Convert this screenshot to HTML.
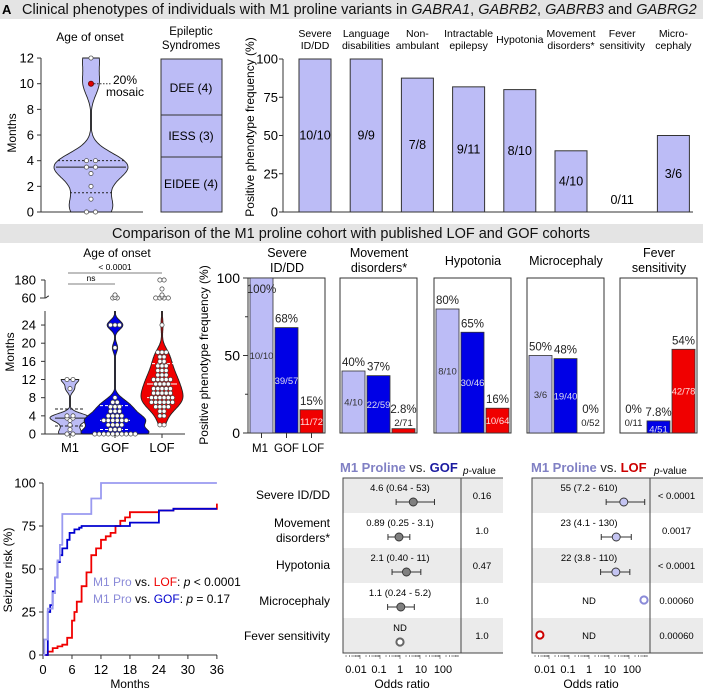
<!DOCTYPE html>
<html><head><meta charset="utf-8">
<style>
html,body{margin:0;padding:0;background:#fff;}
svg{display:block;font-family:"Liberation Sans",Arial,sans-serif;}
</style></head>
<body>
<svg id="fig" width="703" height="690" viewBox="0 0 703 690" xmlns="http://www.w3.org/2000/svg">
  <rect x="0" y="0" width="703" height="19" fill="#e4e4e4"/>
  <text x="2" y="14" font-size="13" font-weight="bold">A</text>
  <text x="22" y="14" font-size="14.5" fill="#111">Clinical phenotypes of individuals with M1 proline variants in <tspan font-style="italic">GABRA1</tspan>, <tspan font-style="italic">GABRB2</tspan>, <tspan font-style="italic">GABRB3</tspan> and <tspan font-style="italic">GABRG2</tspan></text>
  <rect x="0" y="224" width="703" height="19" fill="#e4e4e4"/>
  <text x="351" y="238" text-anchor="middle" font-size="14.5" fill="#111">Comparison of the M1 proline cohort with published LOF and GOF cohorts</text>

  <text x="90" y="41" text-anchor="middle" font-size="12">Age of onset</text>
  <text transform="translate(16,133) rotate(-90)" text-anchor="middle" font-size="12">Months</text>
  <g id="violinA"></g>
  <text x="113" y="84" font-size="12">20%</text>
  <text x="106" y="96" font-size="12">mosaic</text>

  <text x="191" y="35" text-anchor="middle" font-size="11.5">Epileptic</text>
  <text x="191" y="49" text-anchor="middle" font-size="11.5">Syndromes</text>
  <g>
    <rect x="161" y="59" width="61" height="153" fill="#bcbcf6" stroke="#333" stroke-width="1"/>
    <line x1="161" y1="115" x2="222" y2="115" stroke="#333"/>
    <line x1="161" y1="157" x2="222" y2="157" stroke="#333"/>
    <text x="191" y="92" text-anchor="middle" font-size="12">DEE (4)</text>
    <text x="191" y="140" text-anchor="middle" font-size="12">IESS (3)</text>
    <text x="191" y="188" text-anchor="middle" font-size="12">EIDEE (4)</text>
  </g>

  <text transform="translate(254,127) rotate(-90)" text-anchor="middle" font-size="12">Positive phenotype frequency (%)</text>
  <g id="barsA"></g>

  <text x="117" y="257" text-anchor="middle" font-size="12">Age of onset</text>
  <text transform="translate(14,352) rotate(-90)" text-anchor="middle" font-size="12">Months</text>
  <g>
    <line x1="68" y1="273" x2="162" y2="273" stroke="#555" stroke-width="0.8"/>
    <text x="115" y="270" text-anchor="middle" font-size="8.5">&lt; 0.0001</text>
    <line x1="68" y1="284" x2="115" y2="284" stroke="#555" stroke-width="0.8"/>
    <text x="91" y="281" text-anchor="middle" font-size="8.5">ns</text>
  </g>
  <g id="violinB"></g>

  <text transform="translate(208,355) rotate(-90)" text-anchor="middle" font-size="12">Positive phenotype frequency (%)</text>
  <g id="barsB"></g>

  <text transform="translate(12,570) rotate(-90)" text-anchor="middle" font-size="12">Seizure risk (%)</text>
  <text x="130" y="688" text-anchor="middle" font-size="12">Months</text>
  <g id="km"></g>
  <text x="93" y="586" font-size="12"><tspan fill="#8a8ad8">M1 Pro</tspan> vs. <tspan fill="#ee0000">LOF</tspan>: <tspan font-style="italic">p</tspan> &lt; 0.0001</text>
  <text x="93" y="603" font-size="12"><tspan fill="#8a8ad8">M1 Pro</tspan> vs. <tspan fill="#0000cc">GOF</tspan>: <tspan font-style="italic">p</tspan> = 0.17</text>

  <g font-size="12" text-anchor="end">
    <text x="330" y="499">Severe ID/DD</text>
    <text x="330" y="527">Movement</text>
    <text x="330" y="542">disorders*</text>
    <text x="330" y="569">Hypotonia</text>
    <text x="330" y="605">Microcephaly</text>
    <text x="330" y="640">Fever sensitivity</text>
  </g>
  <text x="340" y="472" font-size="13" font-weight="bold"><tspan fill="#8080c4">M1 Proline</tspan><tspan font-weight="normal" fill="#222"> vs. </tspan><tspan fill="#1a1aa0">GOF</tspan></text>
  <text x="463" y="474" font-size="10"><tspan font-style="italic">p</tspan>-value</text>
  <text x="531" y="472" font-size="13" font-weight="bold"><tspan fill="#8080c4">M1 Proline</tspan><tspan font-weight="normal" fill="#222"> vs. </tspan><tspan fill="#cc0000">LOF</tspan></text>
  <text x="654" y="474" font-size="10"><tspan font-style="italic">p</tspan>-value</text>
  <g id="forest"></g>
</svg>

<script>
const onsetA = [0, 0, 1, 2, 3, 3.5, 3.5, 4, 4, 10, 12];
const mosaicValue = 10;
const yTicksA = [0, 2, 4, 6, 8, 10, 12];

const phenoA = ["Severe|ID/DD", "Language|disabilities", "Non-|ambulant", "Intractable|epilepsy", "Hypotonia", "Movement|disorders*", "Fever|sensitivity", "Micro-|cephaly"];
const freqA = [100, 100, 87.5, 81.8, 80, 40, 0, 50];
const fracA = ["10/10", "9/9", "7/8", "9/11", "8/10", "4/10", "0/11", "3/6"];
const pctTicks = [0, 25, 50, 75, 100];

const groupsB = ["M1", "GOF", "LOF"];
const onsetM1 = [0, 0, 1, 2, 3, 3.5, 3.5, 4, 4, 10, 12, 12];
const onsetGOF = [0,0,0,0,0,0,0,0,0,0, 1,1,1, 2,2,2,2, 3,3,3,3,3,3, 4,4,4,4, 5,5,5, 6,6,6, 7,7, 8, 19, 24,24,24, 60,60,65,80];
const onsetLOF = [2,2, 4,4, 5,5, 6,6,6,6, 7,7,7,7,7,7, 8,8,8,8,8,8, 9,9,9,9,9, 10,10,10,10,10, 11,11,11,11, 12,12,12,12,12, 13,13,13, 14,14,14, 15,15,15, 16,16, 17,17, 18,18,18, 24, 60,60,60,60,70,80,120,180,180];
const yTicksLower = [0, 4, 8, 12, 16, 20, 24];
const yTicksUpper = [60, 180];

const phenoB = ["Severe|ID/DD", "Movement|disorders*", "Hypotonia", "Microcephaly", "Fever|sensitivity"];
const freqM1 = [100, 40, 80, 50, 0];
const freqGOF = [68, 37, 65, 48, 7.8];
const freqLOF = [15, 2.8, 16, 0, 54];
const fracM1 = ["10/10", "4/10", "8/10", "3/6", "0/11"];
const fracGOF = ["39/57", "22/59", "30/46", "19/40", "4/51"];
const fracLOF = ["11/72", "2/71", "10/64", "0/52", "42/78"];
const pctM1 = ["100%", "40%", "80%", "50%", "0%"];
const pctGOF = ["68%", "37%", "65%", "48%", "7.8%"];
const pctLOF = ["15%", "2.8%", "16%", "0%", "54%"];

const kmM1T = [0, 0.3, 1, 2, 2.5, 3, 3.5, 4, 10, 12, 36];
const kmM1V = [0, 9, 27, 36, 45, 55, 64, 82, 91, 100, 100];
const kmGOFT = [0, 1, 1.5, 2, 2.5, 3, 3.5, 4, 5, 5.5, 6.5, 7.5, 8, 18, 24, 27, 36];
const kmGOFV = [0, 25, 29, 37, 45, 54, 58, 62, 67, 71, 73, 74, 75, 77, 84, 85, 85];
const kmLOFT = [0, 1, 2, 3, 4, 5, 6, 6.5, 7, 8, 9, 10, 11, 12, 13, 14, 15, 16, 17, 18, 24, 27, 36];
const kmLOFV = [0, 2, 4, 5, 6, 10, 20, 25, 31, 40, 48, 58, 62, 67, 69, 71, 75, 78, 80, 83, 84, 85, 88];
const kmXTicks = [0, 6, 12, 18, 24, 30, 36];
const kmYTicks = [0, 25, 50, 75, 100];

const forestGOFOR = [4.6, 0.89, 2.1, 1.1, null];
const forestGOFLo = [0.64, 0.25, 0.40, 0.24, null];
const forestGOFHi = [53, 3.1, 11, 5.2, null];
const forestGOFText = ["4.6 (0.64 - 53)", "0.89 (0.25 - 3.1)", "2.1 (0.40 - 11)", "1.1 (0.24 - 5.2)", "ND"];
const forestGOFP = ["0.16", "1.0", "0.47", "1.0", "1.0"];
const forestGOFND = [null, null, null, null, 1];
const forestLOFOR = [55, 23, 22, null, null];
const forestLOFLo = [7.2, 4.1, 3.8, null, null];
const forestLOFHi = [610, 130, 110, null, null];
const forestLOFText = ["55 (7.2 - 610)", "23 (4.1 - 130)", "22 (3.8 - 110)", "ND", "ND"];
const forestLOFP = ["< 0.0001", "0.0017", "< 0.0001", "0.00060", "0.00060"];
const forestLOFND = [null, null, null, 600, 0.0035];
const orTicks = [0.01, 0.1, 1, 10, 100];
const orTickLabels = ["0.01", "0.1", "1", "10", "100"];

const NS = "http://www.w3.org/2000/svg";
function el(tag, attrs, parent) {
  const e = document.createElementNS(NS, tag);
  for (const k in attrs) e.setAttribute(k, attrs[k]);
  parent.appendChild(e);
  return e;
}
const LAV = "#bcbcf6", BLUE = "#0000e6", RED = "#f00000";

function kdePath(data, lo, hi, bw, maxHW, cx, yf) {
  const pts = [];
  let mx = 0;
  for (let m = lo; m <= hi + 1e-9; m += 0.1) {
    let s = 0;
    for (const d of data) s += Math.exp(-0.5 * Math.pow((m - d) / bw, 2));
    pts.push([m, s]); if (s > mx) mx = s;
  }
  let r = "", l = "";
  pts.forEach((p, i) => { const w = Math.max(p[1] / mx * maxHW, 0.5); r += (i ? "L" : "M") + (cx + w).toFixed(1) + "," + yf(p[0]).toFixed(1); });
  for (let i = pts.length - 1; i >= 0; i--) { const w = Math.max(pts[i][1] / mx * maxHW, 0.5); l += "L" + (cx - w).toFixed(1) + "," + yf(pts[i][0]).toFixed(1); }
  return r + l + "Z";
}
function quant(arr, q) {
  const s = arr.slice().sort((a, b) => a - b);
  const pos = (s.length - 1) * q, b = Math.floor(pos);
  return s[b] + (s[Math.min(b + 1, s.length - 1)] - s[b]) * (pos - b);
}
function spreadDots(data, cx, yf, g, fill, stroke, nameBase, sp) {
  const counts = {};
  data.forEach(v => counts[v] = (counts[v] || 0) + 1);
  const seen = {};
  data.forEach(v => {
    const n = counts[v]; const k = seen[v] = (seen[v] || 0) + 1;
    const x = cx + (k - 1 - (n - 1) / 2) * sp;
    const c = el("circle", {cx: x, cy: yf(v), r: 2.1, fill: fill, stroke: stroke, "stroke-width": 0.7}, g);
    
    
  });
}

(function () {
  const g = document.getElementById("violinA");
  const yA = m => 212 - m * 12.83;
  const ax = el("path", {d: "M41,58V212H143", fill: "none", stroke: "#333", "stroke-width": 1}, g);
  
  
  yTicksA.forEach(t => {
    const tl = el("line", {x1: 37, x2: 41, y1: yA(t), y2: yA(t), stroke: "#333"}, g);
    
    
    const tx = el("text", {x: 34, y: yA(t) + 4.5, "text-anchor": "end", "font-size": 13}, g);
    tx.textContent = t;
    
    
  });
  const sh = el("path", {d: kdePath(onsetA, Math.min(...onsetA), Math.max(...onsetA), 0.9, 37, 91, yA), fill: LAV, stroke: "#222", "stroke-width": 0.9}, g);
  
  
  const med = quant(onsetA, 0.5), q1 = quant(onsetA, 0.25), q3 = quant(onsetA, 0.75);
  [[med, "none", 56, 126], [q1, "2,2", 70, 112], [q3, "2,2", 58, 124]].forEach(([v, da, a, b]) => {
    const ln = el("line", {x1: a, x2: b, y1: yA(v), y2: yA(v), stroke: "#222", "stroke-width": 1, "stroke-dasharray": da}, g);
    
    
  });
  spreadDots(onsetA, 91, yA, g, "#fff", "#444", "violin-a-dot", 9);
  const md = el("line", {x1: 94, x2: 112, y1: yA(mosaicValue), y2: yA(mosaicValue), stroke: "#333", "stroke-dasharray": "1.5,1.5"}, g);
  
  
  const mc = el("circle", {cx: 91, cy: yA(mosaicValue), r: 2.6, fill: "#e00000", stroke: "#600", "stroke-width": 0.8}, g);
  
  
})();

(function () {
  const g = document.getElementById("barsA");
  const yA = v => 212 - v * 1.53;
  const cx = i => 315 + i * 51.2;
  const ax = el("path", {d: "M283,59V212H693", fill: "none", stroke: "#333"}, g);
  
  
  pctTicks.forEach(t => {
    const tl = el("line", {x1: 279, x2: 283, y1: yA(t), y2: yA(t), stroke: "#333"}, g);
    
    
    const tx = el("text", {x: 278, y: yA(t) + 4.5, "text-anchor": "end", "font-size": 13}, g);
    tx.textContent = t;
    
    
  });
  freqA.forEach((v, i) => {
    const top = yA(v);
    if (v > 0) {
      const r = el("rect", {x: cx(i) - 16, y: top, width: 32, height: 212 - top, fill: LAV, stroke: "#333", "stroke-width": 1}, g);
      
      
    }
    const ft = el("text", {x: cx(i), y: (v > 0 ? (top + 212) / 2 : 200) + 4, "text-anchor": "middle", "font-size": 12.5}, g);
    ft.textContent = fracA[i];
    
    
    const parts = phenoA[i].split("|");
    parts.forEach((p, k) => {
      const ht = el("text", {x: cx(i), y: parts.length === 1 ? 43 : 37 + k * 12, "text-anchor": "middle", "font-size": 10.5}, g);
      ht.textContent = p;
      
      
    });
  });
})();

(function () {
  const g = document.getElementById("violinB");
  const yL = m => 434 - m * 4.54;
  const yU = m => 298 - (m - 60) * 18 / 120;
  const yMap = m => (m <= 27 ? yL(m) : yU(m));
  const ax = el("path", {d: "M45,280V298M45,311V434H185", fill: "none", stroke: "#333"}, g);
  
  
  const brk = el("path", {d: "M40,298H45M45,298c2,0 2,-2 4,-2", fill: "none", stroke: "#333"}, g);
  
  
  yTicksLower.forEach(t => {
    const tl = el("line", {x1: 41, x2: 45, y1: yL(t), y2: yL(t), stroke: "#333"}, g);
    
    
    const tx = el("text", {x: 36, y: yL(t) + 4.5, "text-anchor": "end", "font-size": 13}, g);
    tx.textContent = t;
    
    
  });
  yTicksUpper.forEach(t => {
    const tl = el("line", {x1: 41, x2: 45, y1: yU(t), y2: yU(t), stroke: "#333"}, g);
    
    
    const tx = el("text", {x: 36, y: yU(t) + 4.5, "text-anchor": "end", "font-size": 13}, g);
    tx.textContent = t;
    
    
  });
  const sets = [onsetM1, onsetGOF, onsetLOF];
  const centers = [70, 115, 162];
  const fills = [LAV, BLUE, RED];
  const hws = [20, 34, 21];
  const bws = [0.8, 1.0, 1.6];
  const lineCols = ["#222", "#fff", "#fff"];
  const sps = [6, 4.5, 4.2];
  sets.forEach((data, gi) => {
    const low = data.filter(v => v <= 27);
    const hiV = gi === 0 ? Math.max(...low) : 27;
    const sh = el("path", {d: kdePath(low, Math.min(...low), hiV, bws[gi], hws[gi], centers[gi], yL), fill: fills[gi], stroke: "#222", "stroke-width": 0.9}, g);
    
    
    const med = quant(data, 0.5), q1 = quant(data, 0.25), q3 = quant(data, 0.75);
    [[med, "none"], [q1, "3,2"], [q3, "3,2"]].forEach(([v, da]) => {
      if (v > 27) return;
      const ln = el("line", {x1: centers[gi] - 15, x2: centers[gi] + 15, y1: yL(v), y2: yL(v), stroke: lineCols[gi], "stroke-width": 1, "stroke-dasharray": da}, g);
      
      
    });
    spreadDots(data, centers[gi], yMap, g, "#fff", "#444", 'violin-b-dot', sps[gi]);
    const tk = el("line", {x1: centers[gi], x2: centers[gi], y1: 434, y2: 438, stroke: "#333"}, g);
    
    
    const lb = el("text", {x: centers[gi], y: 452, "text-anchor": "middle", "font-size": 13}, g);
    lb.textContent = groupsB[gi];
    
    
  });
})();

(function () {
  const g = document.getElementById("barsB");
  const yB = v => 433 - v * 1.55;
  const lefts = [248, 340, 434, 527, 620];
  const freqs = [freqM1, freqGOF, freqLOF];
  const fracs = [fracM1, fracGOF, fracLOF];
  const pcts = [pctM1, pctGOF, pctLOF];
  const fills = [LAV, BLUE, RED];
  const fracCol = ["#333", "#dde", "#fdd"];
  [0, 25, 50, 75, 100].forEach(t => {
    const major = t % 50 === 0;
    const tl = el("line", {x1: major ? 243 : 245, x2: 248, y1: yB(t), y2: yB(t), stroke: "#333"}, g);
    
    
    if (major) {
      const tx = el("text", {x: 240, y: yB(t) + 5, "text-anchor": "end", "font-size": 14}, g);
      tx.textContent = t;
      
      
    }
  });
  lefts.forEach((L, p) => {
    const box = el("rect", {x: L, y: 278, width: 77, height: 155, fill: "#fff", stroke: "#333", "stroke-width": 1}, g);
    
    
    const parts = phenoB[p].split("|");
    parts.forEach((s, k) => {
      const ht = el("text", {x: L + 39, y: parts.length === 1 ? 265 : 257 + k * 15, "text-anchor": "middle", "font-size": 12.5}, g);
      ht.textContent = s;
      
      
    });
    for (let j = 0; j < 3; j++) {
      const v = freqs[j][p];
      const x = L + 2 + j * 25;
      const top = yB(v);
      const h = 433 - top;
      if (v > 0) {
        const r = el("rect", {x: x, y: top, width: 23, height: h, fill: fills[j], stroke: "#333", "stroke-width": 0.8}, g);
        
        
      }
      const fy = h >= 10 ? Math.max((top + 433) / 2, top + 8) + 3.5 : 426;
      const ft = el("text", {x: x + 11.5, y: fy, "text-anchor": "middle", "font-size": 9.5, fill: h >= 10 ? fracCol[j] : "#222"}, g);
      ft.textContent = fracs[j][p];
      
      
      let py;
      if (top - 9 < 282) py = top + 15;
      else if (h >= 10) py = top - 5;
      else py = 413;
      const pt = el("text", {x: x + 11.5, y: py, "text-anchor": "middle", "font-size": 11.5, fill: "#222"}, g);
      pt.textContent = pcts[j][p];
      
      
    }
  });
  [0, 1, 2].forEach(j => {
    const x = 248 + 2 + j * 25 + 11.5;
    const tk = el("line", {x1: x, x2: x, y1: 433, y2: 438, stroke: "#333"}, g);
    
    
    const lb = el("text", {x: x + (j - 1) * 1.5, y: 452, "text-anchor": "middle", "font-size": 11.5}, g);
    lb.textContent = groupsB[j];
    
    
  });
})();

(function () {
  const g = document.getElementById("km");
  const xK = m => 43 + m * 4.83;
  const yK = v => 655 - v * 1.72;
  const ax = el("path", {d: "M43,483V655H217", fill: "none", stroke: "#333"}, g);
  
  
  kmYTicks.forEach(t => {
    const tl = el("line", {x1: 39, x2: 43, y1: yK(t), y2: yK(t), stroke: "#333"}, g);
    
    
    const tx = el("text", {x: 36, y: yK(t) + 4.5, "text-anchor": "end", "font-size": 13}, g);
    tx.textContent = t;
    
    
  });
  kmXTicks.forEach(t => {
    const tl = el("line", {x1: xK(t), x2: xK(t), y1: 655, y2: 659, stroke: "#333"}, g);
    
    
    const tx = el("text", {x: xK(t), y: 674, "text-anchor": "middle", "font-size": 13}, g);
    tx.textContent = t;
    
    
  });
  function step(T, V) {
    let d = "M" + xK(T[0]) + "," + yK(V[0]);
    for (let i = 1; i < T.length; i++) d += "H" + xK(T[i]).toFixed(1) + "V" + yK(V[i]).toFixed(1);
    return d;
  }
  const lof = el("path", {d: step(kmLOFT, kmLOFV), fill: "none", stroke: RED, "stroke-width": 1.8}, g);
  
  
  const gof = el("path", {d: step(kmGOFT, kmGOFV), fill: "none", stroke: "#0000d0", "stroke-width": 1.8}, g);
  
  
  const m1 = el("path", {d: step(kmM1T, kmM1V), fill: "none", stroke: "#9a9af0", "stroke-width": 1.8}, g);
  
  
})();

(function () {
  const g = document.getElementById("forest");
  const top = 478, rowH = 35;
  const labelShift = [-4, -1, 0, 1, 3];
  function forest(left, OR, LO, HI, TXT, P, ND, fill, ndCols, name, right) {
    const divX = left + 118;
    const xF = v => left + 57 + Math.log10(v) * 20;
    for (let i = 0; i < 5; i++) {
      const r = el("rect", {x: left, y: top + i * rowH, width: right - left, height: rowH, fill: i % 2 === 0 ? "#ebebeb" : "#fff"}, g);
      
      
    }
    const b = el("path", {d: `M${right},${top}H${left}V${top + 5 * rowH}H${right}M${divX},${top}V${top + 5 * rowH}`, fill: "none", stroke: "#444", "stroke-width": 1}, g);
    
    
    for (let e = -3; e <= 3; e++) {
      for (let k = 1; k <= 9; k++) {
        const v = k * Math.pow(10, e);
        const x = xF(v);
        if (x < left + 2 || x > divX - 2) continue;
        const tl = el("line", {x1: x, x2: x, y1: top + 5 * rowH + 2, y2: top + 5 * rowH + (k === 1 ? 6 : 4), stroke: "#444", "stroke-width": 0.6}, g);
        
        
      }
    }
    orTicks.forEach((t, i) => {
      const tx = el("text", {x: xF(t) + labelShift[i], y: 673, "text-anchor": "middle", "font-size": 11}, g);
      tx.textContent = orTickLabels[i];
      
      
    });
    const xt = el("text", {x: xF(1) + 2, y: 688, "text-anchor": "middle", "font-size": 12}, g);
    xt.textContent = "Odds ratio";
    
    
    for (let i = 0; i < 5; i++) {
      const ry = top + i * rowH;
      const tt = el("text", {x: xF(1), y: ry + 13, "text-anchor": "middle", "font-size": 9.5}, g);
      tt.textContent = TXT[i];
      if (OR[i] === null) tt.setAttribute("y", ry + (name === "forest-gof" && i === 4 ? 13 : 21));
      
      
      const pt = el("text", {x: divX + (right - divX) / 2, y: ry + 21, "text-anchor": "middle", "font-size": 9.5}, g);
      pt.textContent = P[i];
      
      
      const cy = ry + 24;
      if (OR[i] !== null) {
        const wl = el("path", {d: `M${xF(LO[i])},${cy}H${xF(HI[i])}M${xF(LO[i])},${cy - 3}V${cy + 3}M${xF(HI[i])},${cy - 3}V${cy + 3}`, stroke: "#333", "stroke-width": 1, fill: "none"}, g);
        
        
        const c = el("circle", {cx: xF(OR[i]), cy: cy, r: 4, fill: fill, stroke: "#333", "stroke-width": 0.9}, g);
        
        
      } else if (ND[i] !== null) {
        const c = el("circle", {cx: Math.min(xF(ND[i]), divX - 6), cy: name === "forest-gof" ? cy : ry + 17, r: 3.6, fill: "#fff", stroke: ndCols[i], "stroke-width": 2}, g);
        
        
      }
    }
  }
  forest(343, forestGOFOR, forestGOFLo, forestGOFHi, forestGOFText, forestGOFP, forestGOFND, "#808080", [null, null, null, null, "#666"], "forest-gof", 503);
  forest(532, forestLOFOR, forestLOFLo, forestLOFHi, forestLOFText, forestLOFP, forestLOFND, "#c4c4f2", [null, null, null, "#8a8ad8", "#cc0000"], "forest-lof", 703);
})();
</script>
</body></html>
